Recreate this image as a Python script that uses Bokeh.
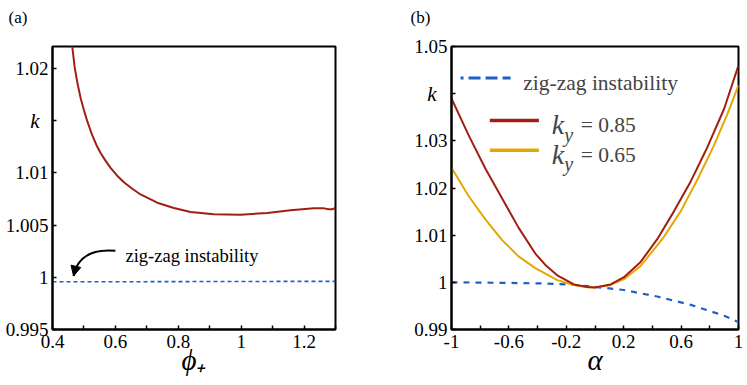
from bokeh.plotting import figure
from bokeh.layouts import row
from bokeh.models import Label, Arrow, NormalHead, FixedTicker, Range1d, LinearAxis
from bokeh.embed import file_html
from bokeh.resources import INLINE

# ---------------- data ----------------
# panel (a): k versus phi_+
phi_red = [0.462, 0.471, 0.480, 0.490, 0.500, 0.510, 0.525, 0.540, 0.553, 0.570, 0.584, 0.605,
           0.627, 0.655, 0.680, 0.733, 0.786, 0.839, 0.913, 0.998, 1.083, 1.157, 1.231, 1.263,
           1.278, 1.290, 1.300]
k_red_a = [1.0223, 1.0200, 1.0185, 1.0171, 1.0160, 1.0150, 1.0137, 1.01265, 1.0119, 1.0111,
           1.01050, 1.00975, 1.00910, 1.00845, 1.00793, 1.00714, 1.00663, 1.00625, 1.00603,
           1.00600, 1.00615, 1.00641, 1.00660, 1.00660, 1.00652, 1.00652, 1.00664]
phi_zz = [0.4, 0.7, 1.0, 1.3]
k_zz_a = [0.99957, 0.99958, 0.99960, 0.99961]

# panel (b): k versus alpha
alpha_85 = [-1.0, -0.881, -0.765, -0.649, -0.533, -0.416, -0.346, -0.263, -0.147, -0.053, 0.0,
            0.109, 0.202, 0.318, 0.435, 0.551, 0.667, 0.784, 0.900, 1.0]
k_85 = [1.0390, 1.0312, 1.0242, 1.0179, 1.0116, 1.0061, 1.0037, 1.0015, 0.99956, 0.99900, 0.99892,
        0.99955, 1.00110, 1.00432, 1.0092, 1.0151, 1.0214, 1.0287, 1.0368, 1.0460]
alpha_65 = [-1.0, -0.881, -0.765, -0.649, -0.533, -0.416, -0.263, -0.147, -0.053, 0.0,
            0.109, 0.202, 0.318, 0.470, 0.598, 0.714, 0.830, 0.923, 1.0]
k_65 = [1.0243, 1.0183, 1.0134, 1.0090, 1.0055, 1.0030, 1.00046, 0.99942, 0.99895, 0.99888,
        0.99945, 1.00067, 1.00348, 1.0092, 1.0151, 1.0218, 1.0291, 1.0357, 1.0418]
alpha_zz = [-1.0, -0.6, -0.379, -0.193, -0.053, 0.202, 0.434, 0.667, 0.900, 1.0]
k_zz_b = [1.0000, 0.99988, 0.99977, 0.99956, 0.99921, 0.99837, 0.99699, 0.99523, 0.99293, 0.99155]

# ticks
xa_ticks = [0.4, 0.5, 0.6, 0.7, 0.8, 0.9, 1.0, 1.1, 1.2, 1.3]
xa_labels = ["0.4", "", "0.6", "", "0.8", "", "1", "", "1.2", ""]
ya_ticks = [0.995, 1.0, 1.005, 1.01, 1.015, 1.02]
ya_labels = ["0.995", "1", "1.005", "1.01", "", "1.02"]
xb_ticks = [-1.0, -0.8, -0.6, -0.4, -0.2, 0.0, 0.2, 0.4, 0.6, 0.8, 1.0]
xb_labels = ["-1", "", "-0.6", "", "-0.2", "", "0.2", "", "0.6", "", "1"]
yb_ticks = [0.99, 1.0, 1.01, 1.02, 1.03, 1.04, 1.05]
yb_labels = ["0.99", "1", "1.01", "1.02", "1.03", "", "1.05"]
ka_tick = 1.015
kb_tick = 1.04

legend_labels = ["zig-zag instability", "0.85", "0.65"]

FONT = "Liberation Serif, Times New Roman, Times, serif"
RED = "#a31e12"
GOLD = "#e2a900"
BLUE = "#1f5fc8"


def style(p, xt, xl, yt, yl, xlabel):
    p.grid.visible = False
    p.outline_line_color = "black"
    p.outline_line_width = 2
    p.outline_line_alpha = 1
    p.xaxis.ticker = FixedTicker(ticks=xt)
    p.yaxis.ticker = FixedTicker(ticks=yt)
    p.xaxis.major_label_overrides = {t: l for t, l in zip(xt, xl)}
    p.yaxis.major_label_overrides = {t: l for t, l in zip(yt, yl)}
    for ax in (p.xaxis[0], p.yaxis[0]):
        ax.axis_line_width = 2
        ax.axis_line_color = "black"
        ax.major_tick_in = 4
        ax.major_tick_out = 0
        ax.major_tick_line_width = 1.5
        ax.major_tick_line_color = "black"
        ax.minor_tick_line_color = None
        ax.major_label_text_font = FONT
        ax.major_label_text_font_size = "19px"
        ax.major_label_text_color = "black"
        ax.major_label_standoff = 4
    p.xaxis.major_label_standoff = 5
    p.xaxis.axis_label = xlabel
    p.xaxis.axis_label_text_font = FONT
    p.xaxis.axis_label_text_font_style = "italic"
    p.xaxis.axis_label_text_font_size = "29px"
    p.xaxis.axis_label_text_color = "black"
    p.xaxis.axis_label_standoff = -7


def k_axis(p, tick, standoff):
    ax = LinearAxis(ticker=FixedTicker(ticks=[tick]), major_label_overrides={tick: "k"})
    ax.axis_line_color = None
    ax.major_tick_line_color = None
    ax.minor_tick_line_color = None
    ax.major_label_text_font = FONT
    ax.major_label_text_font_style = "italic"
    ax.major_label_text_font_size = "21px"
    ax.major_label_text_color = "black"
    ax.major_label_standoff = standoff
    p.add_layout(ax, "left")


def panel_title(p, text, offset, standoff):
    p.title.text = text + "\n "
    p.title.align = "left"
    p.title.offset = offset
    p.title.standoff = standoff
    p.title.text_font = FONT
    p.title.text_font_style = "normal"
    p.title.text_font_size = "17px"
    p.title.text_color = "black"


# ---------------- panel (a) ----------------
pa = figure(width=370, height=384, output_backend="svg", toolbar_location=None,
            x_range=Range1d(0.4, 1.3), y_range=Range1d(0.995, 1.0221),
            min_border_left=52, min_border_right=35, min_border_top=46, min_border_bottom=55)
style(pa, xa_ticks, xa_labels, ya_ticks, ya_labels, "\u03d5\u208a")
k_axis(pa, ka_tick, -43)
panel_title(pa, "(a)", -44, 2)

pa.line(phi_zz, k_zz_a, line_color=BLUE, line_width=1.6, line_dash="4 3")
pa.line(phi_red, k_red_a, line_color=RED, line_width=2)

# arrow annotation
pa.quadratic(x0=[0.600], y0=[1.00253], x1=[0.467], y1=[1.00012], cx=[0.484], cy=[1.0028],
             line_color="black", line_width=2)
pa.add_layout(Arrow(end=NormalHead(size=10, fill_color="black", line_color="black"),
                    x_start=0.474, y_start=1.0010, x_end=0.467, y_end=1.00012,
                    line_alpha=0))
pa.add_layout(Label(x=0.632, y=1.00206, text=legend_labels[0], text_font=FONT,
                    text_font_size="18.5px", text_color="black", text_baseline="alphabetic"))

# ---------------- panel (b) ----------------
pb = figure(width=377, height=384, output_backend="svg", toolbar_location=None,
            x_range=Range1d(-1.0, 1.0), y_range=Range1d(0.99, 1.05),
            min_border_left=81, min_border_right=9, min_border_top=45, min_border_bottom=52)
style(pb, xb_ticks, xb_labels, yb_ticks, yb_labels, "\u03b1")
k_axis(pb, kb_tick, -31)
panel_title(pb, "(b)", -41, 2)

pb.line(alpha_zz, k_zz_b, line_color=BLUE, line_width=2.2, line_dash="6 6")
pb.line(alpha_65, k_65, line_color=GOLD, line_width=2)
pb.line(alpha_85, k_85, line_color=RED, line_width=2)

# legend
pb.line([-0.937, -0.588], [1.0433, 1.0433], line_color=BLUE, line_width=3,
        line_dash="12 5", line_dash_offset=9)
pb.add_layout(Label(x=-0.5, y=1.0423, text=legend_labels[0], text_font=FONT,
                    text_font_size="21.5px", text_baseline="alphabetic"))
for (col, ky, lab) in [(RED, 1.0343, legend_labels[1]), (GOLD, 1.0280, legend_labels[2])]:
    pb.line([-0.733, -0.391], [ky, ky], line_color=col, line_width=3.5)
    base = ky - 0.0009
    pb.add_layout(Label(x=-0.302, y=base, text="k", text_font=FONT, text_font_style="italic",
                        text_font_size="28px", text_baseline="alphabetic"))
    pb.add_layout(Label(x=-0.215, y=base - 0.0021, text="y", text_font=FONT,
                        text_font_style="italic", text_font_size="20px",
                        text_baseline="alphabetic"))
    pb.add_layout(Label(x=-0.10, y=base, text="= " + lab, text_font=FONT,
                        text_font_size="21.5px", text_baseline="alphabetic"))

layout = row(pa, pb)
open("out.html", "w").write(file_html(layout, INLINE))
